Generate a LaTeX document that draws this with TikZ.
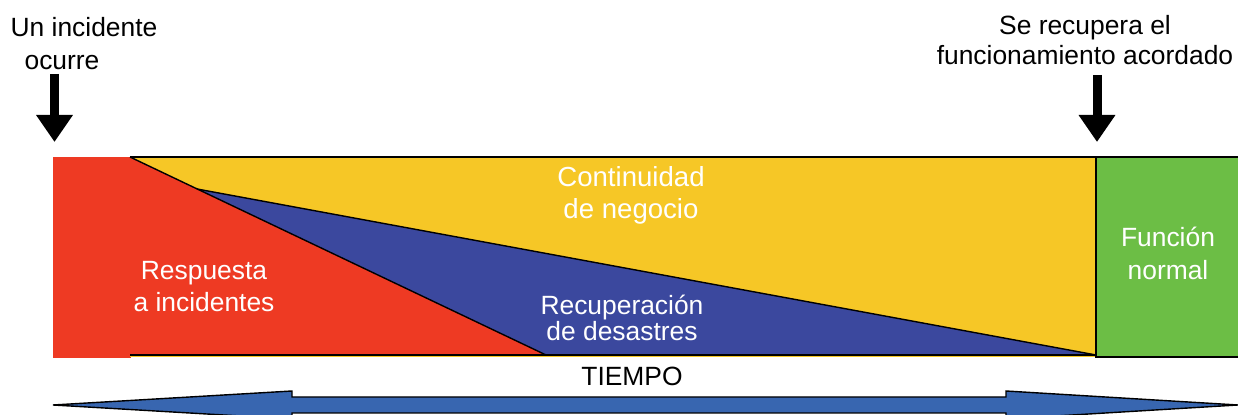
\documentclass[tikz,border=0pt]{standalone}
\usepackage{fontspec}
\setmainfont{Liberation Sans}
\usepackage{xcolor}
\usetikzlibrary{arrows.meta}

\definecolor{incred}{RGB}{238,58,35}
\definecolor{bcyellow}{RGB}{246,199,38}
\definecolor{drblue}{RGB}{59,72,158}
\definecolor{fngreen}{RGB}{108,190,69}
\definecolor{tlblue}{RGB}{56,102,176}

\tikzset{
  lbl/.style={anchor=base, align=center, inner sep=0pt,
    font=\fontsize{13.2}{#1}\selectfont},
  lbl/.default=16,
  inlbl/.style={lbl=#1, text=white},
  inlbl/.default=16,
  edge/.style={draw=black, line width=0.7pt},
  drop/.style={line width=4.5pt, -{Triangle[length=13.5pt,width=17.5pt]}}
}

\begin{document}
\begin{tikzpicture}[x=0.5pt,y=-0.5pt]
\useasboundingbox (0,0) rectangle (1238,415);
\clip (0,0) rectangle (1238,415);

% phases
\fill[incred] (53,157) rectangle (131,358);
\fill[bcyellow] (130,157) rectangle (1096,357);
\fill[drblue] (197,189) -- (1096,355) -- (546,355) -- cycle;
\fill[incred] (130,157) -- (546,355) -- (130,355) -- cycle;
\draw[edge] (130,157) -- (546,355);
\draw[edge] (197,189) -- (1096,355);
\draw[edge] (130,355) -- (1096,355);
\draw[edge] (130,157) -- (1096,157);
\filldraw[fill=fngreen, edge] (1096,157) rectangle (1240,357);

% time line
\filldraw[fill=tlblue, edge] (53,405) -- (292,391) -- (292,397)
  -- (1006,397) -- (1006,391) -- (1238,405) -- (1006,419)
  -- (1006,413) -- (292,413) -- (292,419) -- cycle;

% labels (base = last line)
\node[lbl=16.5] (inc) at (84,70) {Un incidente\\ocurre\hspace*{22pt}};
\node[lbl=15] (rec) at (1085,65) {Se recupera el\\funcionamiento acordado};
\node[inlbl=16, font=\fontsize{13.8}{16}\selectfont] (cont) at (631,219)
  {Continuidad\\de negocio};
\node[inlbl=16] (resp) at (204,312) {Respuesta\\a incidentes};
\node[inlbl=13] (recup) at (622,341) {Recuperación\\de desastres};
\node[inlbl=16.5] (func) at (1168,280) {Función\\normal};
\node[lbl] (time) at (632,386) {TIEMPO};

% arrows
\coordinate (incTop) at (54.5,74);
\coordinate (incTip) at (54.5,142);
\coordinate (recTop) at (1097,75);
\coordinate (recTip) at (1097,142);
\draw[drop] (incTop) -- (incTip);
\draw[drop] (recTop) -- (recTip);

\end{tikzpicture}
\end{document}
